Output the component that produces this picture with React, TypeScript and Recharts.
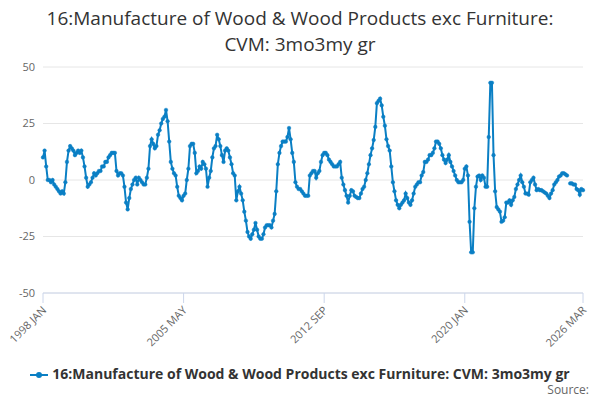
import React from "react";
import { LineChart, Line, XAxis, YAxis, CartesianGrid } from "recharts";

// Monthly values, Jan 1998 .. Mar 2026
const y1998 = [10, 13, 6, 0, 0, -1, 0, -2, -3, -4, -5, -6];
const y1999 = [-5, -6, -1, 8, 13, 15, 14, 13, 11, 12, 13, 12];
const y2000 = [13, 10, 6, 1, -3, -2, -1, 1, 3, 2, 3, 4];
const y2001 = [4, 6, 6, 8, 8, 10, 11, 12, 12, 12, 4, 2];
const y2002 = [3, 3, 2, -3, -10, -13, -8, -4, -2, 0, 1, -2];
const y2003 = [1, 0, -1, -2, -2, 1, 5, 15, 18, 16, 14, 15];
const y2004 = [20, 22, 25, 27, 28, 31, 26, 17, 8, 5, 3, 2];
const y2005 = [-3, -7, -8, -9, -7, -6, 0, 5, 15, 16, 16, 12];
const y2006 = [3, 4, 6, 5, 8, 7, 5, -3, 1, 4, 10, 14];
const y2007 = [15, 20, 18, 15, 11, 8, 13, 14, 13, 10, 7, 3];
const y2008 = [2, -9, -5, -3, -6, -9, -14, -18, -23, -25, -26, -24];
const y2009 = [-22, -19, -22, -25, -26, -26, -24, -21, -20, -20, -20, -21];
const y2010 = [-18, -15, -5, 7, 12, 15, 17, 17, 17, 19, 23, 18];
const y2011 = [12, 8, -1, -3, -4, -4, -5, -6, -7, -7, -7, 2];
const y2012 = [3, 4, 4, 1, 3, 4, 8, 11, 12, 12, 11, 9];
const y2013 = [8, 7, 6, 6, 6, 7, 8, 1, -2, -4.5, -7, -10];
const y2014 = [-7, -4.5, -5, -7, -7.5, -8, -8, -6, -4, -3, 0, 3];
const y2015 = [7, 11, 14, 17.7, 23.5, 34, 35, 36, 33, 28, 24, 18];
const y2016 = [15, 13, 6, -1, -5, -9, -11, -12.5, -11, -10, -9, -6];
const y2017 = [-8, -10, -11, -9, -6, -3, -2, -1, -1, 2, 3.5, 8];
const y2018 = [8, 9, 11, 11, 12, 14, 17, 17, 16, 14, 11, 9];
const y2019 = [7.5, 9, 11, 8, 6, 4, 2, 0, -1, -1, -1, 0];
const y2020 = [5, 6, 2, -18.5, -32, -32, -12.5, -3, 1.5, 2, 0, 2];
const y2021 = [1, -3, -3, 19, 43, 43, 11, -5, -12, -13, -14, -18.5];
const y2022 = [-18, -16.5, -10, -10, -9, -11, -9, -7.5, -4, -2, 0, 2];
const y2023 = [-1, -3, -6, -6, -6.5, -1, 0, 1, -2, -4.5, -4, -4.5];
const y2024 = [-4.5, -5, -5.5, -6, -7, -8, -6, -4.5, -2, -1, 0, 1.5];
const y2025 = [2, 3, 3, 2.5, 2, null, -1.5, -1.5, -2, -2, -4, -4.5];
const y2026 = [-6.5, -4, -4.5];

const series = [
  y1998, y1999, y2000, y2001, y2002, y2003, y2004, y2005, y2006, y2007,
  y2008, y2009, y2010, y2011, y2012, y2013, y2014, y2015, y2016, y2017,
  y2018, y2019, y2020, y2021, y2022, y2023, y2024, y2025, y2026,
].flat();

const tickIdx = [0, 88, 176, 264, 338];
const tickLabels = ["1998 JAN", "2005 MAY", "2012 SEP", "2020 JAN", "2026 MAR"];
const yTicks = [-50, -25, 0, 25, 50];

const seriesName = "16:Manufacture of Wood & Wood Products exc Furniture: CVM: 3mo3my gr";
const color = "#0a7fc4";

const data = series.map((v, i) => ({ idx: i, value: v }));

const XTick = (props: any) => {
  const { x, y, payload } = props;
  const label = tickLabels[tickIdx.indexOf(payload.value)];
  return (
    <text
      x={x + 4}
      y={y + 6}
      transform={`rotate(-45 ${x + 4} ${y + 6})`}
      textAnchor="end"
      fontSize={11}
      fill="#666"
    >
      {label}
    </text>
  );
};

export default function App() {
  return (
    <div
      style={{
        position: "absolute",
        left: 0,
        top: 0,
        width: 600,
        height: 400,
        background: "#fff",
        fontFamily: "'Open Sans', 'DejaVu Sans', sans-serif",
      }}
    >
      <div
        style={{
          position: "absolute",
          top: 5,
          width: 600,
          textAlign: "center",
          fontSize: 19,
          lineHeight: "26px",
          color: "#333",
        }}
      >
        16:Manufacture of Wood &amp; Wood Products exc Furniture:
        <br />
        CVM: 3mo3my gr
      </div>
      <LineChart
        width={600}
        height={400}
        data={data}
        margin={{ top: 67, right: 17, bottom: 45, left: 0 }}
      >
        <CartesianGrid vertical={false} stroke="#e6e6e6" />
        <XAxis
          dataKey="idx"
          type="number"
          domain={[0, 338]}
          ticks={tickIdx}
          tick={<XTick />}
          height={62}
          stroke="#ccd6eb"
          tickLine={{ stroke: "#ccd6eb" }}
          tickSize={10}
          interval={0}
        />
        <YAxis
          domain={[-50, 50]}
          ticks={yTicks}
          width={43}
          axisLine={false}
          tickLine={false}
          tick={{ fontSize: 11, fill: "#666" }}
        />
        <Line
          type="linear"
          dataKey="value"
          stroke={color}
          strokeWidth={2}
          dot={{ r: 1.8, fill: color, stroke: color, strokeWidth: 0.5 }}
          isAnimationActive={false}
          connectNulls={false}
        />
      </LineChart>
      <div
        style={{
          position: "absolute",
          top: 364,
          width: 600,
          textAlign: "center",
          fontSize: 14,
          fontWeight: "bold",
          color: "#333",
          whiteSpace: "nowrap",
        }}
      >
        <svg width={18} height={10} style={{ marginRight: 4, verticalAlign: "middle" }}>
          <line x1={0} y1={5} x2={18} y2={5} stroke={color} strokeWidth={2} />
          <circle cx={9} cy={5} r={3} fill={color} />
        </svg>
        {seriesName}
      </div>
      <div style={{ position: "absolute", top: 381, right: 11, fontSize: 12, color: "#666" }}>
        Source:
      </div>
    </div>
  );
}
